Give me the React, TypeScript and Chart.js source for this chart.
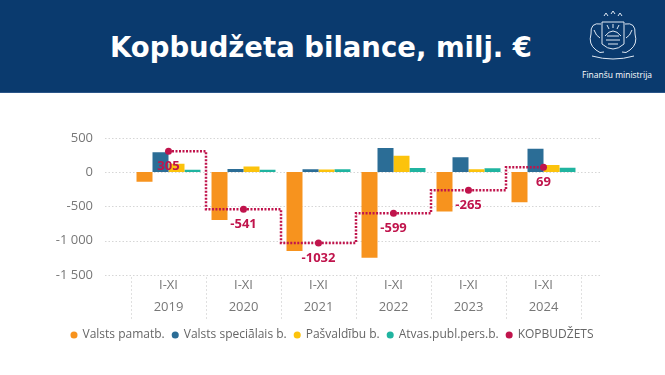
import React, { useEffect, useRef } from "react";
import { Chart, registerables } from "chart.js";

Chart.register(...registerables);

const categories: string[][] = [
  ["I-XI", "2019"],
  ["I-XI", "2020"],
  ["I-XI", "2021"],
  ["I-XI", "2022"],
  ["I-XI", "2023"],
  ["I-XI", "2024"],
];
const valstsPamatb = [-140, -700, -1150, -1250, -575, -440];
const valstsSpecialais = [290, 45, 40, 350, 215, 340];
const pasvaldibu = [120, 80, 38, 240, 40, 105];
const atvasPubl = [35, 35, 40, 60, 55, 64];
const kopbudzets = [305, -541, -1032, -599, -265, 69];

const yTickValues = [500, 0, -500, -1000, -1500];
const yTickLabels = ["500", "0", "-500", "-1 000", "-1 500"];

const seriesNames = [
  "Valsts pamatb.",
  "Valsts speciālais b.",
  "Pašvaldību b.",
  "Atvas.publ.pers.b.",
  "KOPBUDŽETS",
];
const colors = ["#F7931E", "#2B6D96", "#FCC30C", "#20B4A0", "#C0144C"];

const FONT = "'Open Sans', 'Noto Sans', sans-serif";

const extGridPlugin = {
  id: "extGrid",
  beforeDatasetsDraw(chart: any) {
    const { ctx, chartArea, scales } = chart;
    const y = scales.y;
    const x = scales.x;
    ctx.save();
    ctx.strokeStyle = "#d6d6d6";
    ctx.lineWidth = 1;
    ctx.setLineDash([1.5, 2]);
    y.ticks.forEach((t: any) => {
      const py = Math.round(y.getPixelForValue(t.value)) + 0.5;
      ctx.beginPath();
      ctx.moveTo(chartArea.left - 26, py);
      ctx.lineTo(chartArea.right + 19, py);
      ctx.stroke();
    });
    // category separators below the plot
    ctx.strokeStyle = "#e0e0e0";
    ctx.setLineDash([2, 2]);
    const n = x.ticks.length;
    const step = x.getPixelForValue(1) - x.getPixelForValue(0);
    for (let i = 0; i <= n; i++) {
      const px = x.getPixelForValue(0) + (i - 0.5) * step;
      const rx = Math.round(px) + 0.5;
      ctx.beginPath();
      ctx.moveTo(rx, chartArea.bottom + 2);
      ctx.lineTo(rx, chartArea.bottom + 44);
      ctx.stroke();
    }
    ctx.restore();
  },
};

const valueLabelPlugin = {
  id: "valueLabels",
  afterDatasetsDraw(chart: any) {
    const { ctx } = chart;
    const idx = chart.data.datasets.length - 1;
    const meta = chart.getDatasetMeta(idx);
    const data = chart.data.datasets[idx].data;
    ctx.save();
    ctx.fillStyle = colors[4];
    ctx.font = `bold 13px ${FONT}`;
    ctx.textAlign = "center";
    ctx.textBaseline = "middle";
    meta.data.forEach((pt: any, i: number) => {
      ctx.fillText(String(data[i]), pt.x, pt.y + 15);
    });
    ctx.restore();
  },
};

function ChartView() {
  const ref = useRef<HTMLCanvasElement | null>(null);
  useEffect(() => {
    if (!ref.current) return;
    const barSeries = [valstsPamatb, valstsSpecialais, pasvaldibu, atvasPubl];
    const chart = new Chart(ref.current, {
      type: "bar",
      data: {
        labels: categories,
        datasets: [
          ...barSeries.map((d, i) => ({
            type: "bar" as const,
            label: seriesNames[i],
            data: d,
            backgroundColor: colors[i],
            borderWidth: 0,
            categoryPercentage: 0.853,
            barPercentage: 1,
            order: 1,
            pointStyle: "circle",
          })),
          {
            type: "line" as const,
            label: seriesNames[4],
            data: kopbudzets,
            borderColor: colors[4],
            backgroundColor: colors[4],
            borderWidth: 2.5,
            borderDash: [2, 1.5],
            stepped: "middle",
            pointRadius: 3.5,
            pointBackgroundColor: colors[4],
            pointBorderWidth: 0,
            pointStyle: "circle",
            fill: false,
            order: 0,
          } as any,
        ],
      },
      options: {
        animation: false,
        responsive: false,
        maintainAspectRatio: false,
        layout: { padding: { top: 35, left: 0, right: 0, bottom: 0 } },
        plugins: {
          tooltip: { enabled: false },
          legend: {
            position: "bottom",
            labels: {
              usePointStyle: true,
              boxWidth: 5,
              boxHeight: 5,
              padding: 8,
              color: "#666",
              font: { family: FONT, size: 12 },
              sort: (a: any, b: any) => a.datasetIndex - b.datasetIndex,
            },
          },
        },
        scales: {
          x: {
            afterFit: (s: any) => {
              s.height = 46;
            },
            grid: { display: false },
            border: { display: false },
            ticks: {
              padding: -8,
              color: "#777",
              font: { family: FONT, size: 13, lineHeight: 1.65 },
              maxRotation: 0,
              autoSkip: false,
            },
          },
          y: {
            min: -1500,
            max: 500,
            afterFit: (s: any) => {
              s.width = 131;
            },
            grid: { display: false },
            border: { display: false },
            ticks: {
              stepSize: 500,
              padding: 30,
              color: "#777",
              font: { family: FONT, size: 13 },
              callback: (v: any) => {
                const i = yTickValues.indexOf(Number(v));
                return i >= 0 ? yTickLabels[i] : "";
              },
            },
          },
          yR: {
            position: "right",
            min: -1500,
            max: 500,
            afterFit: (s: any) => {
              s.width = 84;
            },
            grid: { display: false },
            border: { display: false },
            ticks: { display: false },
          },
        },
      },
      plugins: [extGridPlugin, valueLabelPlugin],
    });
    return () => chart.destroy();
  }, []);
  return <canvas ref={ref} width={665} height={251} style={{ display: "block" }} />;
}

function Logo() {
  return (
    <svg width="62" height="56" viewBox="0 0 62 56" style={{ position: "absolute", left: 582, top: 10 }}>
      <g fill="none" stroke="#dfe8f3" strokeWidth="1">
        <path d="M22 6 l2 -3 l2 3 M29 4 l2 -3 l2 3 M36 6 l2 -3 l2 3" />
        <path d="M20 12 L42 12 L42 34 Q31 44 20 34 Z" />
        <path d="M23 26 Q31 16 39 26" />
        <path d="M25 26 L37 26 M24 30 L38 30 M26 34 L36 34" />
        <path d="M31 18 L31 14 M27 19 L25 15 M35 19 L37 15" />
        <path d="M19 14 Q8 12 9 24 Q6 34 14 40 Q18 44 22 42" />
        <path d="M43 14 Q54 12 53 24 Q56 34 48 40 Q44 44 40 42" />
        <path d="M12 20 Q14 26 18 28 M50 20 Q48 26 44 28" />
        <path d="M10 46 Q31 52 52 46" />
      </g>
    </svg>
  );
}

export default function App() {
  return (
    <div
      style={{
        position: "fixed",
        left: 0,
        top: 0,
        width: 665,
        height: 375,
        background: "#ffffff",
        overflow: "hidden",
      }}
    >
      <div
        style={{
          position: "absolute",
          left: 0,
          top: 0,
          width: 665,
          height: 92,
          background: "#0A3A6E",
          borderBottom: "1px solid #2a5588",
        }}
      >
        <div
          style={{
            position: "absolute",
            left: 0,
            top: 29,
            width: 642,
            textAlign: "center",
            color: "#ffffff",
            fontFamily: "'DejaVu Sans', sans-serif",
            fontWeight: "bold",
            fontSize: 27.5,
            lineHeight: "36px",
            whiteSpace: "nowrap",
          }}
        >
          Kopbudžeta bilance, milj. €
        </div>
        <Logo />
        <div
          style={{
            position: "absolute",
            left: 582,
            top: 69,
            color: "#ffffff",
            fontFamily: FONT,
            fontSize: 8.5,
            whiteSpace: "nowrap",
          }}
        >
          Finanšu ministrija
        </div>
      </div>
      <div style={{ position: "absolute", left: 0, top: 100, width: 665, height: 251 }}>
        <ChartView />
      </div>
    </div>
  );
}
